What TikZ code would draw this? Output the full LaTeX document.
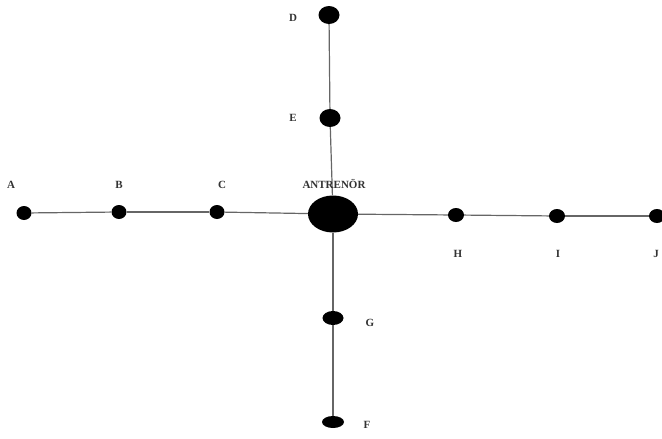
\documentclass[tikz,border=0pt]{standalone}
\usepackage{fontspec}
\setmainfont{Liberation Serif}
\usetikzlibrary{shapes.geometric}
\begin{document}
\begin{tikzpicture}[x=1pt,y=-1pt,
  dot/.style={ellipse,fill=black,inner sep=0pt,minimum width=#1},
  lbl/.style={font=\fontsize{11}{12}\selectfont\bfseries,text=black!80,inner sep=0pt},
  link/.style={draw=black!60,line width=1.2pt}]
\useasboundingbox (0,0) rectangle (662,439);
\node[dot=15pt,minimum height=14pt] (A) at (24,213) {};
\node[dot=15pt,minimum height=14pt] (B) at (119,212) {};
\node[dot=15pt,minimum height=14pt] (C) at (217,212) {};
\node[dot=50pt,minimum height=37pt] (K) at (333,214) {};
\node[dot=16pt,minimum height=14pt] (H) at (456,215) {};
\node[dot=16pt,minimum height=14pt] (I) at (557,216) {};
\node[dot=16pt,minimum height=14pt] (J) at (657,216) {};
\node[dot=21pt,minimum height=18pt] (D) at (329,15) {};
\node[dot=21pt,minimum height=18pt] (E) at (330,118) {};
\node[dot=21pt,minimum height=14pt] (G) at (333,318) {};
\node[dot=22pt,minimum height=12pt] (F) at (333,422) {};
\draw[link] (A) -- (B);
\draw[link] (B) -- (C);
\draw[link] (C) -- (K);
\draw[link] (K) -- (H);
\draw[link] (H) -- (I);
\draw[link] (I) -- (J);
\draw[link] (D) -- (E);
\draw[link] (E) -- (K);
\draw[link] (K) -- (G);
\draw[link] (G) -- (F);
\node[lbl] (lA) at (11,185) {A};
\node[lbl] (lB) at (119,185) {B};
\node[lbl] (lC) at (222,185) {C};
\node[lbl] (lK) at (334,184) {ANTRENÖR};
\node[lbl] (lH) at (458,254) {H};
\node[lbl] (lI) at (558,254) {I};
\node[lbl] (lJ) at (656,254) {J};
\node[lbl] (lD) at (293,18) {D};
\node[lbl] (lE) at (293,118) {E};
\node[lbl] (lG) at (370,323) {G};
\node[lbl] (lF) at (367,425) {F};
\end{tikzpicture}
\end{document}
